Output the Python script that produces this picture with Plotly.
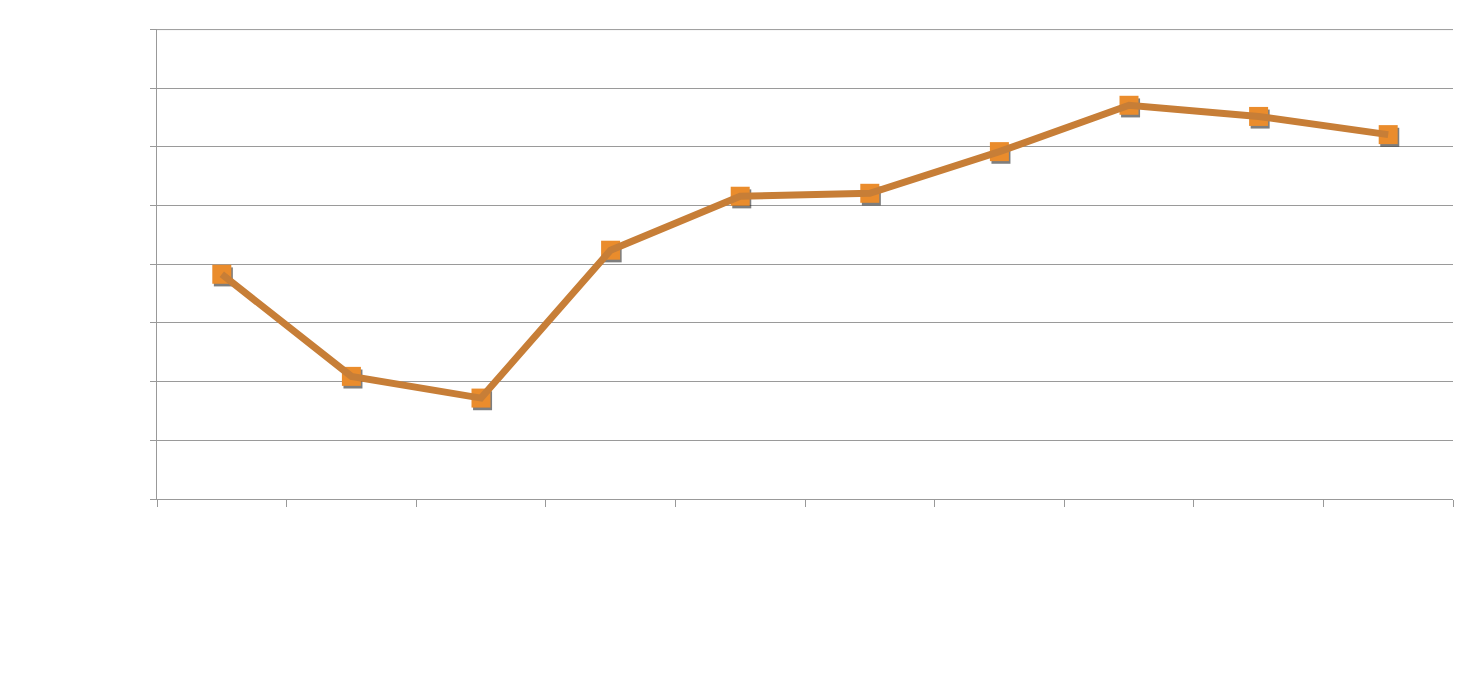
import plotly.graph_objects as go

categories = list(range(10))
values = [3.83, 2.09, 1.72, 4.24, 5.16, 5.21, 5.92, 6.71, 6.52, 6.21]
y_ticks = [0, 1, 2, 3, 4, 5, 6, 7, 8]
x_bounds = [i - 0.5 for i in range(11)]

shadow_dx = 0.012
shadow_dy = 0.045

fig = go.Figure()
# soft shadow under markers (offset down-right)
fig.add_trace(go.Scatter(
    x=[c + shadow_dx for c in categories], y=[v - shadow_dy for v in values], mode="markers",
    marker=dict(symbol="square", size=19, color="rgba(20,20,20,0.55)", line=dict(width=0)),
    hoverinfo="skip", showlegend=False,
))
fig.add_trace(go.Scatter(
    x=categories, y=values, mode="markers",
    marker=dict(symbol="square", size=19, color="#EA8C2C", line=dict(width=0)),
    showlegend=False,
))
fig.add_trace(go.Scatter(
    x=categories, y=values, mode="lines",
    line=dict(color="#C77E37", width=7),
    showlegend=False,
))

fig.update_layout(
    width=1472, height=681,
    margin=dict(l=149, r=27, t=21, b=190),
    paper_bgcolor="white", plot_bgcolor="white",
    shapes=[dict(type="line", xref="paper", yref="y", x0=0, x1=1, y0=y_ticks[-1], y1=y_ticks[-1],
                 line=dict(color="#9a9a9a", width=1), layer="below")],
)
fig.update_xaxes(
    range=[-0.5, 9.5], tickmode="array", tickvals=x_bounds, showticklabels=False,
    ticks="outside", ticklen=7, tickcolor="#999999", showgrid=False,
    showline=True, linecolor="#999999", linewidth=1, zeroline=False,
)
fig.update_yaxes(
    range=[0, 8.01], tickmode="array", tickvals=y_ticks, showticklabels=False,
    ticks="outside", ticklen=6, tickcolor="#999999",
    showgrid=True, gridcolor="#9a9a9a", gridwidth=1,
    showline=True, linecolor="#999999", linewidth=1, zeroline=False,
)
fig.write_html("out.html")
